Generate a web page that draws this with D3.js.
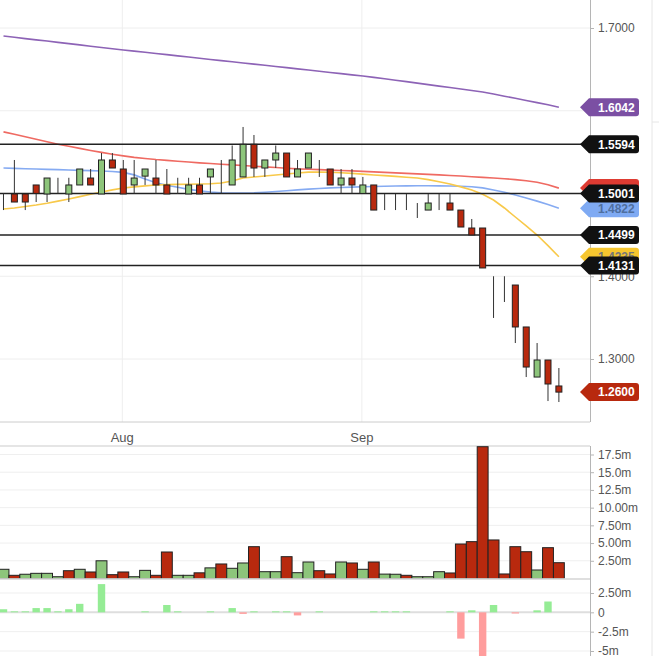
<!DOCTYPE html>
<html>
<head>
<meta charset="utf-8">
<script src="https://cdn.jsdelivr.net/npm/d3@7/dist/d3.min.js"></script>
<style>
  html, body { margin: 0; padding: 0; background: #fff; }
  svg { display: block; font-family: "Liberation Sans", Arial, sans-serif; }
  .tick text { fill: #555; font-size: 12px; }
</style>
</head>
<body>
<div id="chart"></div>
<script>
// trading days, 17 Jul - 27 Sep
var dates = [
  "2019-07-17","2019-07-18","2019-07-19","2019-07-22","2019-07-23","2019-07-24","2019-07-25","2019-07-26",
  "2019-07-29","2019-07-30","2019-07-31","2019-08-01","2019-08-02","2019-08-05","2019-08-06","2019-08-07",
  "2019-08-08","2019-08-09","2019-08-12","2019-08-13","2019-08-14","2019-08-15","2019-08-16","2019-08-19",
  "2019-08-20","2019-08-21","2019-08-22","2019-08-23","2019-08-26","2019-08-27","2019-08-28","2019-08-29",
  "2019-08-30","2019-09-03","2019-09-04","2019-09-05","2019-09-06","2019-09-09","2019-09-10","2019-09-11",
  "2019-09-12","2019-09-13","2019-09-16","2019-09-17","2019-09-18","2019-09-19","2019-09-20","2019-09-23",
  "2019-09-24","2019-09-25","2019-09-26","2019-09-27"
];
var monthTicks = [["2019-08-01", "Aug"], ["2019-09-03", "Sep"]];

var opens = [1.5001,1.4994,1.4994,1.5103,1.4994,1.5187,1.4994,1.5103,1.5187,1.4994,
  1.5405,1.5296,1.5103,1.5210,1.5187,1.5103,1.5001,1.4994,1.5103,1.5200,
  1.5103,1.5103,1.5200,1.5594,1.5308,1.5405,1.5489,1.5200,1.5308,1.5296,
  1.5296,1.5103,1.5187,1.5001,1.5103,1.4897,1.4897,1.4800,1.4800,1.4800,
  1.4897,1.4885,1.4800,1.4583,1.4583,1.4000,1.3906,1.3894,1.3387,1.2782,
  1.2988,1.2674];
var highs = [1.5001,1.5405,1.4994,1.5103,1.5187,1.5190,1.5190,1.5296,1.5296,1.5489,
  1.5489,1.5405,1.5405,1.5296,1.5405,1.5296,1.5190,1.5190,1.5190,1.5296,
  1.5405,1.5580,1.5804,1.5707,1.5405,1.5580,1.5489,1.5405,1.5489,1.5405,
  1.5296,1.5296,1.5296,1.5200,1.5103,1.4994,1.4994,1.4994,1.4885,1.4994,
  1.4994,1.4994,1.4800,1.4692,1.4583,1.4000,1.4000,1.3894,1.3387,1.3193,
  1.2988,1.2891];
var lows = [1.4800,1.4897,1.4800,1.4897,1.4897,1.5001,1.4897,1.5103,1.5103,1.4994,
  1.5308,1.4994,1.5001,1.5103,1.5001,1.4994,1.4994,1.4994,1.4994,1.5001,
  1.5001,1.5103,1.5200,1.5200,1.5200,1.5308,1.5200,1.5200,1.5308,1.5200,
  1.5103,1.5001,1.5001,1.5001,1.4800,1.4800,1.4800,1.4800,1.4704,1.4800,
  1.4800,1.4800,1.4595,1.4499,1.4100,1.3496,1.3689,1.3193,1.2782,1.2782,
  1.2492,1.2480];
var closes = [1.5001,1.4897,1.4897,1.5001,1.5187,1.5187,1.5103,1.5296,1.5103,1.5405,
  1.5308,1.4994,1.5187,1.5296,1.5103,1.4994,1.5001,1.5103,1.4994,1.5296,
  1.5103,1.5405,1.5594,1.5308,1.5405,1.5489,1.5200,1.5296,1.5489,1.5296,
  1.5103,1.5187,1.5103,1.5103,1.4800,1.4897,1.4897,1.4800,1.4800,1.4885,
  1.4897,1.4800,1.4595,1.4499,1.4100,1.4000,1.3906,1.3387,1.2903,1.2988,
  1.2698,1.2600];

// moving averages
var maPurple = [1.6903,1.6888,1.6872,1.6857,1.6842,1.6826,1.6811,1.6796,1.6780,1.6765,
  1.6750,1.6734,1.6720,1.6706,1.6692,1.6678,1.6663,1.6649,1.6635,1.6620,
  1.6606,1.6592,1.6578,1.6563,1.6549,1.6535,1.6521,1.6506,1.6492,1.6477,
  1.6463,1.6449,1.6434,1.6420,1.6403,1.6386,1.6369,1.6352,1.6334,1.6316,
  1.6298,1.6281,1.6263,1.6245,1.6227,1.6202,1.6176,1.6150,1.6124,1.6098,
  1.6072,1.6042];
var maRed = [1.5745,1.5715,1.5685,1.5655,1.5625,1.5596,1.5570,1.5545,1.5520,1.5497,
  1.5475,1.5455,1.5437,1.5423,1.5410,1.5400,1.5390,1.5380,1.5370,1.5362,
  1.5354,1.5346,1.5338,1.5330,1.5322,1.5314,1.5306,1.5298,1.5293,1.5288,
  1.5283,1.5278,1.5273,1.5267,1.5261,1.5255,1.5249,1.5243,1.5237,1.5231,
  1.5225,1.5218,1.5211,1.5203,1.5195,1.5187,1.5179,1.5168,1.5155,1.5135,
  1.5105,1.5065];
var maBlue = [1.5308,1.5304,1.5300,1.5296,1.5292,1.5288,1.5284,1.5280,1.5276,1.5272,
  1.5266,1.5255,1.5225,1.5175,1.5130,1.5100,1.5075,1.5050,1.5032,1.5018,
  1.5008,1.5004,1.5004,1.5008,1.5015,1.5024,1.5034,1.5044,1.5053,1.5061,
  1.5068,1.5073,1.5077,1.5081,1.5085,1.5088,1.5090,1.5092,1.5093,1.5093,
  1.5092,1.5090,1.5088,1.5082,1.5068,1.5042,1.5015,1.4982,1.4946,1.4908,
  1.4866,1.4822];
var maYellow = [1.4813,1.4825,1.4843,1.4861,1.4883,1.4908,1.4934,1.4962,1.4990,1.5018,
  1.5044,1.5066,1.5080,1.5092,1.5103,1.5107,1.5110,1.5112,1.5115,1.5118,
  1.5127,1.5152,1.5187,1.5200,1.5212,1.5224,1.5236,1.5248,1.5258,1.5260,
  1.5256,1.5250,1.5243,1.5234,1.5224,1.5216,1.5207,1.5197,1.5187,1.5168,
  1.5143,1.5115,1.5080,1.5042,1.4990,1.4921,1.4825,1.4716,1.4610,1.4498,
  1.4370,1.4235];

// volume, millions
var volumes = [1.3,0.45,0.6,0.73,0.73,0.25,1.1,1.3,0.92,2.5,
  0.54,0.92,0.25,1.15,0.45,3.74,0.45,0.45,0.8,1.5,
  2.05,1.44,2.19,4.49,0.96,0.96,3.08,0.82,2.33,1.1,
  0.64,2.33,2.19,1.3,2.33,0.62,0.6,0.45,0.25,0.25,
  0.96,0.78,4.87,5.2,18.6,5.44,0.64,4.49,3.78,1.2,
  4.35,2.23];
// lower indicator, millions
var flow = [0.4,0.13,0.13,0.55,0.55,0.13,0.4,1.1,0,3.65,
  0,0,0,0.13,0,0.95,0.13,0,0,0.13,
  0,0.55,-0.2,0.13,0,0.13,0.13,-0.4,0,0.13,
  0,0,0,0,0.13,0.13,0.13,0.13,0,0,
  0,0.13,-3.4,0.26,-6,0.95,0,-0.15,0,0.26,
  1.4,0];

var priceGrid = [1.3, 1.4, 1.5, 1.6, 1.7];
var priceTicks = [1.3, 1.4, 1.7];   // 1.5 and 1.6 sit under the flags
var levels = [1.5594, 1.5001, 1.4499, 1.4131];
var volTicks = [2.5, 5, 7.5, 10, 12.5, 15, 17.5];
var volTickLabels = ["2.50m", "5.00m", "7.50m", "10.00m", "12.5m", "15.0m", "17.5m"];
var flowTicks = [2.5, 0, -2.5, -5];
var flowTickLabels = ["2.50m", "0", "-2.5m", "-5m"];

var W = 659, H = 656;
var plotRight = 590;
var green = "#8dc57b", red = "#b8290e";

var svg = d3.select("#chart").append("svg")
  .attr("width", W).attr("height", H);

var x = d3.scaleBand().domain(dates).range([-1.95, -1.95 + dates.length * 10.89]).padding(0);
function cx(d) { return x(d) + x.bandwidth() / 2; }

var y = d3.scaleLinear().domain([1.3, 1.7]).range([359, 28]);
var vy = d3.scaleLinear().domain([0, 17.5]).range([578.5, 454.5]);
var fy = d3.scaleLinear().domain([-5, 2.5]).range([651, 593]);

var defs = svg.append("defs");
function clip(id, y0, y1) {
  defs.append("clipPath").attr("id", id).append("rect")
    .attr("x", 0).attr("y", y0).attr("width", plotRight).attr("height", y1 - y0);
}
clip("clipPrice", 0, 422);
clip("clipVol", 446, 578.5);
clip("clipFlow", 579, H);

// outer faint frame on the right
svg.append("line").attr("x1", 652).attr("x2", 652).attr("y1", 0).attr("y2", H)
  .attr("stroke", "#e6e6e6");
svg.append("line").attr("x1", 652).attr("x2", W).attr("y1", 122).attr("y2", 122)
  .attr("stroke", "#e6e6e6");

// ---- price panel ----
var grid = svg.append("g");
grid.selectAll("line.h").data(priceGrid).enter().append("line")
  .attr("x1", 0).attr("x2", plotRight)
  .attr("y1", function(d) { return y(d); }).attr("y2", function(d) { return y(d); })
  .attr("stroke", "#eeeeee");
grid.selectAll("line.v").data(monthTicks).enter().append("line")
  .attr("x1", function(d) { return cx(d[0]) - 1; }).attr("x2", function(d) { return cx(d[0]) - 1; })
  .attr("y1", 0).attr("y2", 422)
  .attr("stroke", "#eeeeee");

var price = svg.append("g").attr("clip-path", "url(#clipPrice)");

var maLines = [
  { data: maPurple, color: "#8d63b6" },
  { data: maRed, color: "#ef6a62" },
  { data: maBlue, color: "#86abf2" },
  { data: maYellow, color: "#f8c94a" }
];
var line = d3.line()
  .x(function(d, i) { return cx(dates[i]); })
  .y(function(d) { return y(d); });
price.selectAll("path.ma").data(maLines).enter().append("path")
  .attr("fill", "none")
  .attr("stroke", function(d) { return d.color; })
  .attr("stroke-width", 1.6)
  .attr("d", function(d) { return line(d.data); });

price.selectAll("line.level").data(levels).enter().append("line")
  .attr("x1", 0).attr("x2", plotRight)
  .attr("y1", function(d) { return y(d); }).attr("y2", function(d) { return y(d); })
  .attr("stroke", "#222").attr("stroke-width", 1.5);

var candles = price.selectAll("g.candle").data(dates).enter().append("g");
candles.append("line")
  .attr("x1", function(d) { return cx(d); }).attr("x2", function(d) { return cx(d); })
  .attr("y1", function(d, i) { return y(highs[i]); })
  .attr("y2", function(d, i) { return y(lows[i]); })
  .attr("stroke", "#333").attr("stroke-width", 1);
candles.append("rect")
  .attr("x", function(d) { return cx(d) - 3; })
  .attr("width", 6)
  .attr("y", function(d, i) { return y(Math.max(opens[i], closes[i])); })
  .attr("height", function(d, i) { return Math.abs(y(opens[i]) - y(closes[i])); })
  .attr("fill", function(d, i) { return closes[i] > opens[i] ? green : red; })
  .attr("stroke", "#222").attr("stroke-width", 1);

// price axis
svg.append("line").attr("x1", 0).attr("x2", plotRight).attr("y1", 422).attr("y2", 422)
  .attr("stroke", "#cccccc");
var yAxis = svg.append("g").attr("transform", "translate(" + plotRight + ",0)")
  .call(d3.axisRight(y).tickValues(priceTicks).tickFormat(d3.format(".4f")).tickSize(4).tickPadding(4));
yAxis.select(".domain").attr("d", "M0.5,0V422").attr("stroke", "#b5b5b5");
yAxis.selectAll(".tick line").attr("stroke", "#b5b5b5");

svg.selectAll("text.month").data(monthTicks).enter().append("text")
  .attr("x", function(d) { return cx(d[0]) - 1; })
  .attr("y", 437).attr("dy", "0.35em")
  .attr("text-anchor", "middle")
  .attr("fill", "#555").attr("font-size", 13)
  .text(function(d) { return d[1]; });

// value flags
function flagPath(cy) {
  var h = 9, l = 580, b = 589, r = 639, rr = 3;
  return "M" + l + "," + cy + "L" + b + "," + (cy - h) + "H" + (r - rr) +
    "Q" + r + "," + (cy - h) + " " + r + "," + (cy - h + rr) + "V" + (cy + h - rr) +
    "Q" + r + "," + (cy + h) + " " + (r - rr) + "," + (cy + h) + "H" + b + "Z";
}
var last = dates.length - 1;
// the red one sits fully behind 1.5001, so its text is left out
var flags = [
  { v: maPurple[last], fill: "#7b4fa3", text: "#fff", label: true },
  { v: maRed[last], fill: "#de3b32", text: "#fff", label: false },
  { v: maBlue[last], fill: "#7faaf3", text: "#4f6f9f", label: true },
  { v: maYellow[last], fill: "#f6c62f", text: "#777", label: true },
  { v: levels[0], fill: "#111", text: "#fff", label: true },
  { v: levels[1], fill: "#111", text: "#fff", label: true },
  { v: levels[2], fill: "#111", text: "#fff", label: true },
  { v: levels[3], fill: "#111", text: "#fff", label: true },
  { v: closes[last], fill: "#b8290e", text: "#fff", label: true }
];
var fg = svg.selectAll("g.flag").data(flags).enter().append("g");
fg.append("path")
  .attr("d", function(d) { return flagPath(y(d.v)); })
  .attr("fill", function(d) { return d.fill; });
fg.filter(function(d) { return d.label; }).append("text")
  .attr("x", 598).attr("y", function(d) { return y(d.v); }).attr("dy", "0.36em")
  .attr("fill", function(d) { return d.text; })
  .attr("font-size", 12).attr("font-weight", "bold")
  .text(function(d) { return d3.format(".4f")(d.v); });

// ---- volume panel ----
svg.selectAll("line.vg").data(volTicks).enter().append("line")
  .attr("x1", 0).attr("x2", plotRight)
  .attr("y1", function(d) { return vy(d); }).attr("y2", function(d) { return vy(d); })
  .attr("stroke", "#efefef");
svg.append("line").attr("x1", 0).attr("x2", plotRight).attr("y1", 446).attr("y2", 446)
  .attr("stroke", "#dddddd").attr("stroke-width", 1.5);

svg.append("g").attr("clip-path", "url(#clipVol)")
  .selectAll("rect").data(dates).enter().append("rect")
  .attr("x", function(d) { return x(d); })
  .attr("width", x.bandwidth())
  .attr("y", function(d, i) { return vy(volumes[i]); })
  .attr("height", function(d, i) { return vy(0) - vy(volumes[i]); })
  .attr("fill", function(d, i) { return (i === 0 || closes[i] >= closes[i - 1]) ? green : red; })
  .attr("stroke", "#222").attr("stroke-width", 1);

svg.append("line").attr("x1", 0).attr("x2", plotRight).attr("y1", 579).attr("y2", 579)
  .attr("stroke", "#d5d5d5").attr("stroke-width", 1.5);

var vAxis = svg.append("g").attr("transform", "translate(" + plotRight + ",0)")
  .call(d3.axisRight(vy).tickValues(volTicks)
    .tickFormat(function(d, i) { return volTickLabels[i]; }).tickSize(4).tickPadding(4));
vAxis.select(".domain").attr("d", "M0.5,446V579").attr("stroke", "#b5b5b5");
vAxis.selectAll(".tick line").attr("stroke", "#b5b5b5");

// ---- lower indicator ----
svg.selectAll("line.fg").data(flowTicks).enter().append("line")
  .attr("x1", 0).attr("x2", plotRight)
  .attr("y1", function(d) { return fy(d); }).attr("y2", function(d) { return fy(d); })
  .attr("stroke", function(d) { return d === 0 ? "#dedede" : "#efefef"; })
  .attr("stroke-width", function(d) { return d === 0 ? 2 : 1; });

svg.append("g").attr("clip-path", "url(#clipFlow)")
  .selectAll("rect").data(dates).enter().append("rect")
  .attr("x", function(d) { return cx(d) - 3.7; })
  .attr("width", 7.4)
  .attr("y", function(d, i) { return fy(Math.max(0, flow[i])); })
  .attr("height", function(d, i) { return Math.abs(fy(flow[i]) - fy(0)); })
  .attr("fill", function(d, i) { return flow[i] >= 0 ? "#95ec95" : "#ff9d9d"; });

var fAxis = svg.append("g").attr("transform", "translate(" + plotRight + ",0)")
  .call(d3.axisRight(fy).tickValues(flowTicks)
    .tickFormat(function(d, i) { return flowTickLabels[i]; }).tickSize(4).tickPadding(4));
fAxis.select(".domain").attr("d", "M0.5,579V656").attr("stroke", "#b5b5b5");
fAxis.selectAll(".tick line").attr("stroke", "#b5b5b5");
</script>
</body>
</html>
